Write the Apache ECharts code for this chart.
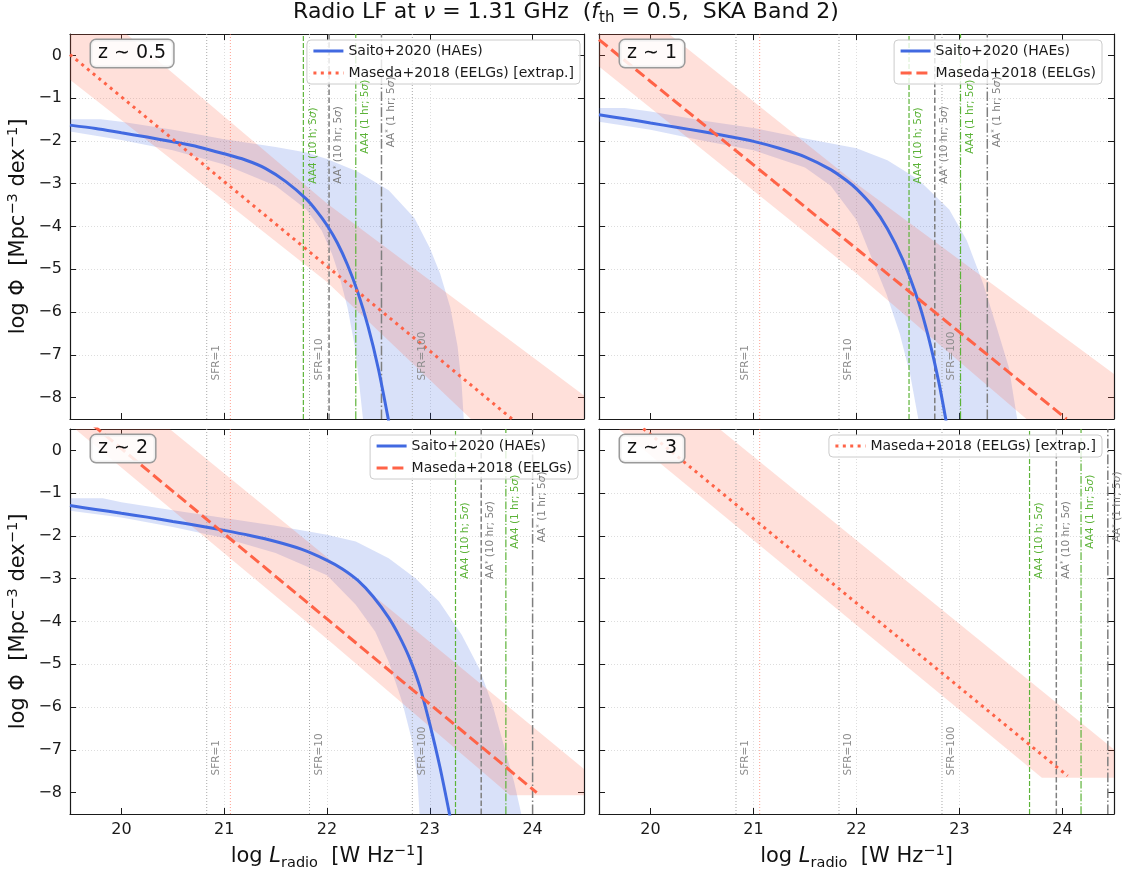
<!DOCTYPE html>
<html><head><meta charset="utf-8">
<script src="https://cdn.jsdelivr.net/npm/echarts@6/dist/echarts.min.js"></script>
<style>html,body{margin:0;padding:0;background:#fff}#c{width:1126px;height:874px}</style>
</head><body><div id="c"></div>
<script>
// ================= DATA =================
const X_MIN = 19.5, X_MAX = 24.5, Y_MIN = -8.5, Y_MAX = 0.5;
const X_TICKS = [20, 21, 22, 23, 24];
const Y_TICKS = [0, -1, -2, -3, -4, -5, -6, -7, -8];
const PANEL_LABELS = ['z \u223C 0.5', 'z \u223C 1', 'z \u223C 2', 'z \u223C 3'];

// Saito+2020 (HAEs) central LF  [log L, log Phi]
const saitoZ05 = [[19.5,-1.63],[19.75,-1.71],[20.0,-1.81],[20.25,-1.91],[20.5,-2.02],[20.75,-2.14],[21.0,-2.30],[21.2,-2.44],[21.4,-2.64],[21.6,-2.95],[21.8,-3.36],[21.9,-3.64],[22.0,-3.97],[22.1,-4.38],[22.2,-4.9],[22.3,-5.54],[22.4,-6.34],[22.5,-7.33],[22.6,-8.55]];
const saitoZ1  = [[19.5,-1.39],[19.75,-1.48],[20.0,-1.58],[20.25,-1.68],[20.5,-1.78],[20.75,-1.89],[21.0,-2.01],[21.25,-2.17],[21.5,-2.37],[21.75,-2.67],[21.9,-2.92],[22.0,-3.12],[22.15,-3.51],[22.3,-4.05],[22.45,-4.78],[22.6,-5.75],[22.7,-6.6],[22.8,-7.65],[22.87,-8.55]];
const saitoZ2  = [[19.5,-1.29],[19.75,-1.38],[20.0,-1.47],[20.25,-1.56],[20.5,-1.66],[20.75,-1.76],[21.0,-1.87],[21.25,-1.99],[21.5,-2.13],[21.75,-2.31],[22.0,-2.57],[22.15,-2.77],[22.3,-3.04],[22.45,-3.42],[22.6,-3.91],[22.7,-4.33],[22.8,-4.84],[22.9,-5.5],[23.0,-6.4],[23.1,-7.42],[23.2,-8.6]];

// Saito+2020 uncertainty band edges
const saitoZ05Up  = [[19.5,-1.49],[19.8,-1.49],[20.0,-1.55],[20.5,-1.74],[21.0,-1.96],[21.5,-2.14],[21.8,-2.27],[22.0,-2.42],[22.3,-2.72],[22.6,-3.15],[22.85,-3.8],[23.0,-4.5],[23.1,-5.1],[23.2,-5.9],[23.27,-6.8],[23.31,-7.7],[23.33,-8.5]];
const saitoZ05Low = [[19.5,-1.78],[20.0,-1.98],[20.5,-2.22],[21.0,-2.55],[21.5,-3.05],[21.8,-3.6],[21.95,-4.1],[22.05,-4.65],[22.12,-5.15],[22.2,-5.9],[22.27,-6.8],[22.31,-7.6],[22.35,-8.5]];
const saitoZ1Up   = [[19.5,-1.23],[19.75,-1.23],[20.0,-1.31],[20.5,-1.52],[21.0,-1.70],[21.5,-1.94],[22.0,-2.17],[22.3,-2.45],[22.6,-2.9],[22.9,-3.6],[23.07,-4.32],[23.23,-5.34],[23.36,-6.35],[23.48,-7.3],[23.56,-8.5]];
const saitoZ1Low  = [[19.5,-1.55],[20.0,-1.74],[20.5,-1.99],[21.0,-2.22],[21.5,-2.62],[21.75,-3.05],[22.0,-3.85],[22.13,-4.63],[22.29,-5.57],[22.42,-6.51],[22.52,-7.45],[22.6,-8.5]];
const saitoZ2Up   = [[19.5,-1.12],[19.82,-1.12],[20.0,-1.21],[20.5,-1.40],[21.0,-1.58],[21.5,-1.76],[22.0,-1.97],[22.28,-2.13],[22.6,-2.52],[22.86,-2.99],[23.09,-3.53],[23.31,-4.31],[23.48,-5.09],[23.61,-5.95],[23.72,-6.89],[23.82,-7.75],[23.89,-8.5]];
const saitoZ2Low  = [[19.5,-1.41],[20.0,-1.57],[20.5,-1.79],[21.0,-2.05],[21.5,-2.40],[21.77,-2.68],[22.0,-2.92],[22.28,-3.61],[22.47,-4.24],[22.6,-4.94],[22.73,-5.87],[22.83,-6.81],[22.88,-7.67],[22.9,-8.5]];

// Maseda+2018 (EELGs) power-law LF
const masedaZ05 = [[19.5,0.02],[20.0,-0.97],[21.0,-2.95],[22.0,-4.93],[23.0,-6.91],[23.8,-8.5]];
const masedaZ1  = [[19.5,0.37],[20.0,-0.61],[21.0,-2.56],[22.0,-4.52],[23.0,-6.47],[24.04,-8.5]];
const masedaZ2  = [[19.6,0.84],[20.0,0.04],[21.0,-1.95],[22.0,-3.94],[23.0,-5.93],[24.04,-8.0]];
const masedaZ3  = [[19.93,0.51],[21.0,-1.60],[22.0,-3.57],[23.0,-5.54],[24.05,-7.61]];

// Maseda+2018 uncertainty band outlines (visible part)
const masedaZ05Band = [[19.5,0.5],[20.05,0.5],[22.0,-3.46],[24.5,-7.95],[24.5,-8.5],[23.4,-8.5],[22.7,-6.9],[22.0,-5.3],[21.0,-3.4],[19.5,-0.57]];
const masedaZ1Band  = [[19.5,0.5],[20.18,0.5],[22.0,-3.0],[24.5,-7.45],[24.5,-8.5],[23.65,-8.5],[22.0,-5.1],[19.5,-0.26]];
const masedaZ2Band  = [[19.55,0.5],[20.47,0.5],[22.0,-2.5],[24.5,-7.45],[24.5,-8.06],[23.78,-8.06],[22.03,-4.47]];
const masedaZ3Band  = [[19.69,0.5],[20.67,0.5],[24.5,-6.99],[24.5,-7.65],[23.8,-7.65]];

// Reference vertical lines
const SFR_L = [20.83, 21.83, 22.83];
const SFR_TEXT = ['SFR=1', 'SFR=10', 'SFR=100'];
const SFR_LABEL_Y = -7.6;
const MASEDA_LIMIT_L = 21.06;
// detection limits per panel: [AA4 10h, AA* 10hr, AA4 1hr, AA* 1hr]
const LIM_Z05 = [21.77, 22.02, 22.28, 22.53];
const LIM_Z1  = [22.51, 22.76, 23.01, 23.27];
const LIM_Z2  = [23.25, 23.50, 23.74, 24.00];
const LIM_Z3  = [23.68, 23.94, 24.18, 24.44];
const LIM_LABEL_Y = [-3.0, -3.0, -2.3, -2.15];
const LIM_TEXT = ['{n|AA4 (10 h; 5}{i|\u03C3}{n|)}', '{n|AA}{s|*}{n| (10 hr; 5}{i|\u03C3}{n|)}', '{n|AA4 (1 hr; 5}{i|\u03C3}{n|)}', '{n|AA}{s|*}{n| (1 hr; 5}{i|\u03C3}{n|)}'];

const NAME_SAITO = 'Saito+2020 (HAEs)';
const NAME_MAS = 'Maseda+2018 (EELGs)';
const NAME_MAS_X = 'Maseda+2018 (EELGs) [extrap.]';

// ================= STYLE / LAYOUT =================
const FONT = 'DejaVu Sans';
const BLUE = '#4169e1', BLUE_BAND = 'rgba(65,105,225,0.2)';
const RED = '#ff6347', RED_BAND = 'rgba(255,99,71,0.2)';
const GREEN = '#5cb338', GRAY = '#7f7f7f', SFRGRAY = '#a8a8a8';
const AXC = '#1a1a1a';
const GRIDS = [
  {left: 70, top: 34, width: 514, height: 385},
  {left: 599, top: 34, width: 515, height: 385},
  {left: 70, top: 429, width: 514, height: 385},
  {left: 599, top: 429, width: 515, height: 385}
];
const LEGEND_RIGHT_EDGE = [580, 1102, 578, 1102];

const panels = [
  {saito: saitoZ05, up: saitoZ05Up, low: saitoZ05Low, mas: masedaZ05, masBand: masedaZ05Band, masName: NAME_MAS_X, dotted: true, lim: LIM_Z05, legend: [NAME_SAITO, NAME_MAS_X]},
  {saito: saitoZ1, up: saitoZ1Up, low: saitoZ1Low, mas: masedaZ1, masBand: masedaZ1Band, masName: NAME_MAS, dotted: false, lim: LIM_Z1, legend: [NAME_SAITO, NAME_MAS]},
  {saito: saitoZ2, up: saitoZ2Up, low: saitoZ2Low, mas: masedaZ2, masBand: masedaZ2Band, masName: NAME_MAS, dotted: false, lim: LIM_Z2, legend: [NAME_SAITO, NAME_MAS]},
  {saito: null, mas: masedaZ3, masBand: masedaZ3Band, masName: NAME_MAS_X, dotted: true, lim: LIM_Z3, legend: [NAME_MAS_X]}
];

const fmtNum = v => (v < 0 ? '\u2212' + Math.abs(v) : String(v));

const xAxes = [], yAxes = [];
for (let i = 0; i < 4; i++) {
  xAxes.push({gridIndex: i, type: 'value', min: X_MIN, max: X_MAX, splitNumber: 5, position: 'bottom',
    axisLine: {show: true, onZero: false, lineStyle: {color: AXC, width: 1.2}},
    axisTick: {show: true, inside: true, length: 6, customValues: X_TICKS, lineStyle: {color: AXC, width: 1}},
    axisLabel: {show: i >= 2, customValues: X_TICKS, fontSize: 16, color: AXC, fontFamily: FONT, margin: 8, formatter: fmtNum},
    splitLine: {show: true, showMinLine: false, showMaxLine: false, lineStyle: {color: '#d4d4d4', width: 0.8, type: [1, 2]}}});
}
for (let i = 0; i < 4; i++) {
  xAxes.push({gridIndex: i, type: 'value', min: X_MIN, max: X_MAX, splitNumber: 5, position: 'top',
    axisLine: {show: true, onZero: false, lineStyle: {color: AXC, width: 1.2}},
    axisTick: {show: true, inside: true, length: 6, customValues: X_TICKS, lineStyle: {color: AXC, width: 1}},
    axisLabel: {show: false}, splitLine: {show: false}});
}
for (let i = 0; i < 4; i++) {
  yAxes.push({gridIndex: i, type: 'value', min: Y_MIN, max: Y_MAX, splitNumber: 9, position: 'left',
    axisLine: {show: true, onZero: false, lineStyle: {color: AXC, width: 1.2}},
    axisTick: {show: true, inside: true, length: 6, customValues: Y_TICKS, lineStyle: {color: AXC, width: 1}},
    axisLabel: {show: i % 2 === 0, customValues: Y_TICKS, fontSize: 16, color: AXC, fontFamily: FONT, margin: 8, formatter: fmtNum},
    splitLine: {show: true, showMinLine: false, showMaxLine: false, lineStyle: {color: '#d4d4d4', width: 0.8, type: [1, 2]}}});
}
for (let i = 0; i < 4; i++) {
  yAxes.push({gridIndex: i, type: 'value', min: Y_MIN, max: Y_MAX, splitNumber: 9, position: 'right',
    axisLine: {show: true, onZero: false, lineStyle: {color: AXC, width: 1.2}},
    axisTick: {show: true, inside: true, length: 6, customValues: Y_TICKS, lineStyle: {color: AXC, width: 1}},
    axisLabel: {show: false}, splitLine: {show: false}});
}

function polySeries(gi, pts, color, z) {
  return {type: 'custom', name: '_poly' + gi, xAxisIndex: gi, yAxisIndex: gi, silent: true, clip: true, z: z,
    data: pts, encode: {x: 0, y: 1},
    renderItem: (params, api) => {
      if (params.dataIndex !== 0) return null;
      return {type: 'polygon', shape: {points: pts.map(p => api.coord(p))}, style: {fill: color}};
    }};
}
function vline(gi, x, color, width, type, z) {
  return {type: 'line', name: '_v' + gi, xAxisIndex: gi, yAxisIndex: gi, silent: true, z: z || 2,
    data: [[x, Y_MIN], [x, Y_MAX]], symbol: 'none', showSymbol: false,
    lineStyle: {color: color, width: width, type: type}};
}
function richFor(color) {
  return {
    n: {fontSize: 10.5, fontFamily: FONT, fill: color, color: color, lineHeight: 12},
    i: {fontSize: 10.5, fontFamily: FONT, fontStyle: 'italic', fill: color, color: color, lineHeight: 12},
    s: {fontSize: 7, fontFamily: FONT, fill: color, color: color, lineHeight: 7, verticalAlign: 'top'}
  };
}
function labelSeries(gi, xs, ys, texts, colors) {
  return {type: 'custom', name: '_lbl' + gi, xAxisIndex: gi, yAxisIndex: gi, silent: true, clip: false, z: 6,
    data: xs.map((x, k) => [x, ys[k]]), encode: {x: 0, y: 1},
    renderItem: (params, api) => {
      const k = params.dataIndex;
      const pt = api.coord([api.value(0), api.value(1)]);
      return {type: 'text', x: pt[0] + 9.5, y: pt[1], rotation: Math.PI / 2,
        style: {text: texts[k], rich: richFor(colors[k]), fill: colors[k], fontSize: 10.5, fontFamily: FONT, align: 'left', verticalAlign: 'middle'}};
    }};
}

const series = [];
panels.forEach((p, i) => {
  if (p.up) series.push(polySeries(i, p.up.concat(p.low.slice().reverse()), BLUE_BAND, 1));
  series.push(polySeries(i, p.masBand, RED_BAND, 1));
  SFR_L.forEach(x => series.push(vline(i, x, SFRGRAY, 1, [1, 2])));
  series.push(vline(i, MASEDA_LIMIT_L, 'rgba(255,99,71,0.6)', 1, [1, 2]));
  series.push(vline(i, p.lim[0], GREEN, 1.2, [5, 2]));
  series.push(vline(i, p.lim[1], GRAY, 1.5, [5.5, 2.4]));
  series.push(vline(i, p.lim[2], GREEN, 1.2, [7.7, 1.9, 1.2, 1.9]));
  series.push(vline(i, p.lim[3], GRAY, 1.5, [9.6, 2.4, 1.5, 2.4]));
  if (p.saito) series.push({type: 'line', name: NAME_SAITO, xAxisIndex: i, yAxisIndex: i, z: 3, data: p.saito,
    symbol: 'none', showSymbol: false, smooth: 0.25, lineStyle: {color: BLUE, width: 3}, itemStyle: {color: BLUE}});
  series.push({type: 'line', name: p.masName, xAxisIndex: i, yAxisIndex: i, z: 4, data: p.mas,
    symbol: 'none', showSymbol: false,
    lineStyle: p.dotted ? {color: RED, width: 3, type: [3, 4.4]} : {color: RED, width: 3, type: [11, 4.8]}, itemStyle: {color: RED}});
  series.push(labelSeries(i, SFR_L, SFR_L.map(() => SFR_LABEL_Y), SFR_TEXT.map(t => '{n|' + t + '}'), SFR_L.map(() => '#8c8c8c')));
  series.push(labelSeries(i, p.lim, LIM_LABEL_Y, LIM_TEXT, [GREEN, GRAY, GREEN, GRAY]));
});

const legends = panels.map((p, i) => {
  const g = GRIDS[i];
  return {data: p.legend, orient: 'vertical', right: 1126 - LEGEND_RIGHT_EDGE[i], top: g.top + 6,
    itemWidth: 30, itemHeight: 14, itemGap: 8, selectedMode: false,
    itemStyle: {opacity: 0}, lineStyle: {width: 3},
    textStyle: {fontSize: 14, color: AXC, fontFamily: FONT},
    backgroundColor: 'rgba(255,255,255,0.8)', borderColor: '#cccccc', borderWidth: 1, borderRadius: 4,
    padding: [4, 6, 4, 5]};
});

const rN = {fontSize: 22, fontFamily: FONT, fill: '#111', lineHeight: 28};
const rI = {fontSize: 22, fontFamily: FONT, fontStyle: 'italic', fill: '#111', lineHeight: 28};
const rSub = {fontSize: 15, fontFamily: FONT, fill: '#111', lineHeight: 15, verticalAlign: 'bottom'};
const aN = {fontSize: 21, fontFamily: FONT, fill: '#111', lineHeight: 27};
const aI = {fontSize: 21, fontFamily: FONT, fontStyle: 'italic', fill: '#111', lineHeight: 27};
const aSub = {fontSize: 14.5, fontFamily: FONT, fill: '#111', lineHeight: 14, verticalAlign: 'bottom'};
const aSup = {fontSize: 14.5, fontFamily: FONT, fill: '#111', lineHeight: 14, verticalAlign: 'top'};

const graphics = [
  {type: 'text', x: 566, y: 12, z: 100, style: {text: '{n|Radio LF at }{i|\u03BD}{n| = 1.31 GHz  (}{i|f}{s|th}{n| = 0.5,  SKA Band 2)}',
    rich: {n: rN, i: rI, s: rSub}, align: 'center', verticalAlign: 'middle'}}
];
[0, 2].forEach(i => {
  const g = GRIDS[i];
  graphics.push({type: 'text', x: 19, y: g.top + g.height / 2, rotation: Math.PI / 2, z: 100,
    style: {text: '{n|log \u03A6  [Mpc}{p|\u22123}{n| dex}{p|\u22121}{n|]}', rich: {n: aN, p: aSup}, align: 'center', verticalAlign: 'middle'}});
});
[2, 3].forEach(i => {
  const g = GRIDS[i];
  graphics.push({type: 'text', x: g.left + g.width / 2, y: 857, z: 100,
    style: {text: '{n|log }{i|L}{s|radio}{n|  [W Hz}{p|\u22121}{n|]}', rich: {n: aN, i: aI, s: aSub, p: aSup}, align: 'center', verticalAlign: 'middle'}});
});
GRIDS.forEach((g, i) => {
  graphics.push({type: 'text', x: g.left + 21, y: g.top + 6, z: 100,
    style: {text: PANEL_LABELS[i], fontSize: 19, fontFamily: FONT, fill: '#111', align: 'left', verticalAlign: 'top',
      backgroundColor: 'rgba(255,255,255,0.85)', borderColor: '#9a9a9a', borderWidth: 1.5, borderRadius: 5, padding: [4, 7, 4, 7]}});
});

const chart = echarts.init(document.getElementById('c'));
chart.setOption({
  animation: false,
  backgroundColor: '#ffffff',
  grid: GRIDS.map(g => Object.assign({outerBoundsMode: 'none', containLabel: false}, g)),
  xAxis: xAxes, yAxis: yAxes,
  legend: legends,
  series: series,
  graphic: graphics
});
</script></body></html>
